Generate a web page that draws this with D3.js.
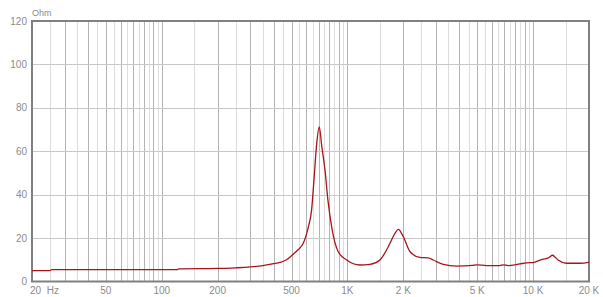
<!DOCTYPE html>
<html>
<head>
<meta charset="utf-8">
<script src="https://cdn.jsdelivr.net/npm/d3@7"></script>
<style>
  html, body { margin: 0; padding: 0; background: #fff; }
  svg text { font-family: "Liberation Sans", Arial, sans-serif; font-size: 10px; fill: #8c8c8c; }
</style>
</head>
<body>
<div id="chart"></div>
<script>
// impedance curve (Hz, Ohm)
const freqs = [20, 25, 25.5, 60, 122, 123, 200, 250, 300, 350, 400, 433, 470, 511, 540, 578, 616, 641, 662, 683, 705,
  728, 757, 785, 828, 892, 991, 1167, 1321, 1496, 1659, 1803, 1880, 2000, 2174, 2457, 2725, 2897, 3281, 3875,
  4700, 4966, 5620, 6620, 6900, 7340, 8490, 9230, 10000, 10900, 12060, 12740, 13100, 13650, 15100, 17900, 19800, 20000];
const ohms = [5.0, 5.0, 5.5, 5.5, 5.5, 5.8, 6.0, 6.3, 6.7, 7.3, 8.2, 8.8, 10.0, 12.6, 14.5, 17.6, 25.2, 32.9, 48.2, 63.5, 71.2,
  62.0, 51.3, 37.5, 23.7, 13.7, 9.9, 7.6, 7.9, 9.9, 16.0, 22.2, 24.0, 20.6, 13.7, 11.1, 10.9, 9.9, 7.9, 7.1,
  7.4, 7.7, 7.3, 7.3, 7.7, 7.3, 8.1, 8.6, 8.7, 9.9, 10.9, 12.1, 11.3, 9.9, 8.4, 8.4, 8.8, 8.9];

const yTicks = [0, 20, 40, 60, 80, 100, 120];
const xTickValues = [20, 50, 100, 200, 500, 1000, 2000, 5000, 10000, 20000];
const xTickLabels = ['20  Hz', '50', '100', '200', '500', '1K', '2 K', '5 K', '10 K', '20 K'];

const width = 603, height = 297;
const margin = { top: 21, right: 14, bottom: 15, left: 32 };

const svg = d3.select('#chart').append('svg')
  .attr('width', width)
  .attr('height', height);

const x = d3.scaleLog()
  .domain([20, 20000])
  .range([margin.left, width - margin.right]);

const y = d3.scaleLinear()
  .domain([0, 120])
  .range([height - margin.bottom - 0.5, margin.top]);

// vertical grid: steps of half a decade unit (20,25,30 ... 100,150,200 ...)
const gridFreqs = [];
[10, 100, 1000, 10000].forEach(dec => {
  for (let m = 1; m <= 10; m += 0.5) {
    const f = Math.round(m * dec);
    if (f >= 20 && f <= 20000 && !gridFreqs.includes(f)) gridFreqs.push(f);
  }
});

svg.append('g')
  .selectAll('line')
  .data(gridFreqs)
  .join('line')
  .attr('x1', d => Math.round(x(d)) + 0.5)
  .attr('x2', d => Math.round(x(d)) + 0.5)
  .attr('y1', y(120))
  .attr('y2', y(0))
  .attr('stroke', d => (d / Math.pow(10, Math.floor(Math.log10(d)))) % 1 === 0 ? '#b4b4b4' : '#dedede')
  .attr('stroke-width', 1);

// horizontal grid
svg.append('g')
  .selectAll('line')
  .data(yTicks.slice(1, -1))
  .join('line')
  .attr('x1', x(20))
  .attr('x2', x(20000))
  .attr('y1', d => Math.round(y(d)) + 0.5)
  .attr('y2', d => Math.round(y(d)) + 0.5)
  .attr('stroke', '#c8c8c8')
  .attr('stroke-width', 1);

// frame
svg.append('rect')
  .attr('x', x(20))
  .attr('y', y(120))
  .attr('width', x(20000) - x(20))
  .attr('height', y(0) - y(120))
  .attr('fill', 'none')
  .attr('stroke', '#808080')
  .attr('stroke-width', 2);

// y labels
svg.append('g')
  .selectAll('text')
  .data(yTicks)
  .join('text')
  .attr('x', 27)
  .attr('y', d => y(d) + 3.5)
  .attr('text-anchor', 'end')
  .text(d => d);

svg.append('text')
  .attr('x', 32)
  .attr('y', 16)
  .style('font-size', '9px')
  .text('Ohm');

// x labels
svg.append('g')
  .selectAll('text')
  .data(xTickValues)
  .join('text')
  .attr('x', (d, i) => i === 0 ? x(d) - 2 : x(d))
  .attr('y', 294)
  .attr('text-anchor', (d, i) => i === 0 ? 'start' : 'middle')
  .style('white-space', 'pre')
  .text((d, i) => xTickLabels[i]);

// impedance curve
const data = freqs.map((f, i) => ({ f: f, v: ohms[i] }));
const line = d3.line()
  .x(d => x(d.f))
  .y(d => y(d.v))
  .curve(d3.curveMonotoneX);

svg.append('path')
  .datum(data)
  .attr('fill', 'none')
  .attr('stroke', '#a8141c')
  .attr('stroke-width', 1.3)
  .attr('d', line);
</script>
</body>
</html>
